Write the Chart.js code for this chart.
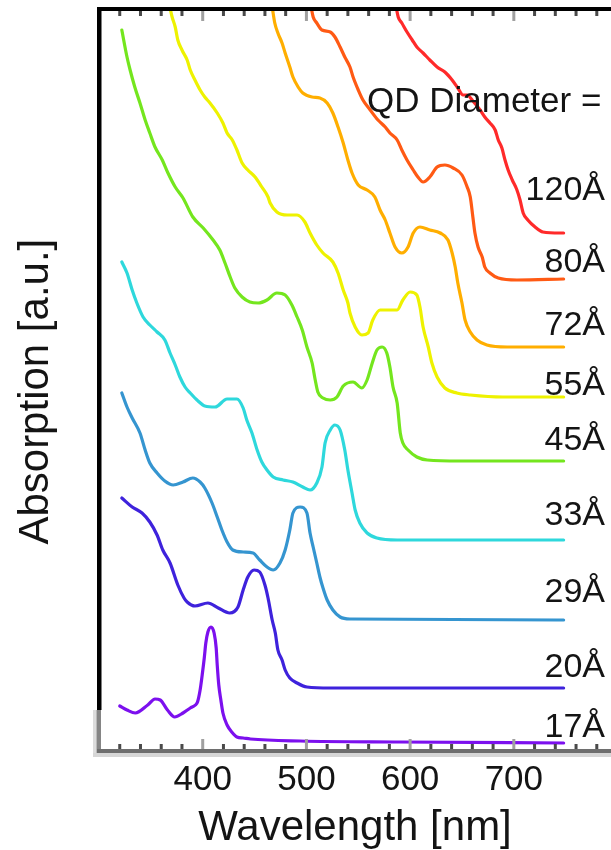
<!DOCTYPE html>
<html>
<head>
<meta charset="utf-8">
<script src="https://cdn.jsdelivr.net/npm/chart.js@4/dist/chart.umd.min.js"></script>
<style>
  html, body { margin: 0; padding: 0; background: #fff; }
  #wrap { width: 611px; height: 850px; }
</style>
</head>
<body>
<div id="wrap"><canvas id="spectra" width="611" height="850" style="width:611px;height:850px"></canvas></div>
<script>
// Absorption spectra of CdSe quantum dots, stacked by diameter (arbitrary units).
const diameters = ['17Å', '20Å', '29Å', '33Å', '45Å', '55Å', '72Å', '80Å', '120Å'];
const tickLabels = [400, 500, 600, 700];

const wl17 = [320, 327, 335, 347, 354, 359, 366, 373, 381, 388, 393, 395, 397.5, 399.5, 401.5, 403, 405, 408, 411, 413, 414, 415.5, 417.5, 419.5, 423.5, 428, 433, 439, 446, 494, 590, 748];
const abs17 = [45, 41, 38, 46, 52, 51, 41, 34, 38, 43, 46, 49, 61, 76, 93, 108, 119, 124, 118, 103, 86, 66, 51, 38, 26, 19, 14, 13, 12, 10, 9, 8];

const wl20 = [322, 332, 341.5, 349, 356, 361.5, 368.5, 376, 382, 385, 392.5, 405, 415, 426, 434, 439, 443.5, 449.5, 455, 460, 463, 467, 470, 472.5, 476.5, 479.5, 484, 491, 500.5, 523, 748];
const abs20 = [253, 244, 238, 229, 216, 201, 188, 166, 153, 149, 145, 148, 143, 138, 144, 161, 174, 181, 179, 166, 153, 131, 118, 101, 91, 81, 73, 68, 64, 63, 63];

const wl29 = [322, 327, 332, 339.5, 344.5, 349, 356, 363.5, 371.5, 381, 390.5, 397.5, 402, 409, 414, 418.5, 423.5, 429, 439, 448.5, 455, 462, 468, 474.5, 479.5, 484, 487, 494, 500.5, 503.5, 506.5, 510, 513, 516, 520, 525.5, 532.5, 542, 748];
const abs29 = [358, 344, 333, 318, 301, 288, 278, 270, 266, 269, 273, 269, 263, 248, 234, 221, 209, 201, 199, 198, 191, 184, 181, 188, 201, 221, 238, 244, 238, 218, 204, 188, 174, 163, 151, 141, 134, 132, 131];

const wl33 = [322, 327, 332, 336.5, 342.5, 349, 356, 363.5, 368.5, 373.5, 378, 383, 388, 394.5, 402, 412, 423.5, 433, 439, 442.5, 447.5, 452.5, 457, 462, 468, 477.5, 487, 496.5, 503.5, 510, 515, 518, 523, 527.5, 532.5, 537, 540, 544, 547, 551.5, 558.5, 568, 587.5, 748];
const abs33 = [489, 478, 461, 448, 434, 426, 419, 411, 398, 386, 374, 364, 358, 351, 345, 344, 352, 352, 343, 331, 318, 301, 289, 281, 274, 271, 269, 264, 261, 268, 284, 308, 321, 326, 321, 301, 281, 258, 241, 228, 218, 213, 211, 211];

const wl45 = [322, 327, 330, 334.5, 339.5, 344.5, 349, 354, 361, 366.5, 373.5, 381, 390.5, 400.5, 410, 416.5, 421.5, 426.5, 431, 438, 445.5, 453.5, 462, 471.5, 479.5, 486, 491, 496, 500.5, 505.5, 508.5, 511, 516, 523, 529.5, 535.5, 545, 553.5, 558.5, 563.5, 568, 573, 577.5, 580.5, 583.5, 587.5, 590.5, 593, 598, 606.5, 616.5, 648, 748];
const abs45 = [721, 694, 681, 664, 648, 631, 618, 604, 591, 578, 564, 553, 534, 523, 511, 501, 488, 474, 463, 454, 449, 448, 451, 458, 456, 446, 434, 421, 404, 388, 371, 359, 353, 351, 354, 365, 369, 363, 371, 388, 401, 404, 398, 384, 364, 348, 318, 308, 301, 294, 291, 290, 290];

const wl55 = [368.5, 370.5, 373.5, 376, 380, 385, 388, 392.5, 397.5, 402, 407, 414, 419.5, 423.5, 428.5, 433, 438, 443.5, 450.5, 457, 463, 465, 471.5, 481.5, 491, 498.5, 503.5, 510, 516, 525.5, 530.5, 535.5, 540, 542, 547, 553.5, 559.5, 564, 571, 580.5, 587.5, 593, 600, 606.5, 609.5, 612.5, 617.5, 621, 626, 633.5, 645, 658, 689.5, 748];
const abs55 = [743, 734, 724, 711, 701, 691, 681, 671, 661, 654, 648, 638, 628, 618, 611, 601, 588, 581, 574, 564, 554, 548, 539, 536, 536, 529, 518, 506, 498, 489, 478, 461, 448, 438, 424, 416, 418, 431, 441, 441, 441, 451, 459, 456, 444, 424, 404, 388, 374, 363, 358, 356, 354, 354];

const wl72 = [467, 469.5, 472.5, 476.5, 479.5, 484, 487, 492, 496.5, 505.5, 513, 520, 525.5, 530.5, 535.5, 540, 544, 550, 558.5, 566, 571, 576, 580.5, 585.5, 592, 598, 603, 609.5, 619, 629, 636.5, 640.5, 643.5, 646, 650, 653, 658, 664.5, 674, 693.5, 748];
const abs72 = [744, 728, 718, 708, 698, 684, 674, 664, 658, 654, 653, 648, 638, 624, 608, 591, 578, 566, 561, 554, 541, 531, 518, 504, 498, 504, 518, 524, 521, 518, 511, 498, 484, 468, 448, 431, 419, 411, 406, 404, 404];

const wl80 = [504.5, 506.5, 510, 515, 523, 527.5, 532.5, 537, 542, 545, 550, 554.5, 561.5, 569, 576, 580.5, 587.5, 592, 597, 603, 607.5, 612.5, 619, 626, 633.5, 641.5, 650, 655, 658, 660.5, 662.5, 665.5, 669.5, 672, 677, 685, 703, 748];
const abs80 = [744, 734, 728, 721, 719, 714, 704, 694, 684, 674, 661, 651, 641, 631, 624, 618, 611, 601, 591, 581, 574, 569, 574, 584, 586, 583, 576, 564, 554, 534, 518, 504, 494, 484, 478, 473, 471, 472];

const wl120 = [586.5, 588.5, 592, 597, 602, 606.5, 612.5, 619, 626, 633.5, 640.5, 646, 651, 655, 660.5, 667.5, 672, 677, 682, 685, 688.5, 691.5, 694.5, 698.5, 703, 706, 709, 713.5, 720.5, 728, 744.5, 748];
const abs120 = [744, 734, 728, 719, 711, 704, 698, 691, 684, 679, 671, 663, 656, 656, 650, 641, 634, 628, 621, 611, 603, 591, 581, 571, 561, 551, 538, 531, 524, 519, 518, 518];

const series = [
  [wl17, abs17, '#7c10ee'],
  [wl20, abs20, '#3e22dc'],
  [wl29, abs29, '#3595d0'],
  [wl33, abs33, '#2ed8dc'],
  [wl45, abs45, '#74e61e'],
  [wl55, abs55, '#eef200'],
  [wl72, abs72, '#ffae00'],
  [wl80, abs80, '#ff5a14'],
  [wl120, abs120, '#ff2a2a']
];

const FONT = 'Liberation Sans, Arial, sans-serif';
const TEXT = '#141414';

const datasets = series.map(([wl, ab, color], i) => ({
  label: diameters[i],
  data: wl.map((x, k) => ({ x, y: ab[k] })),
  borderColor: color,
  backgroundColor: color,
  borderWidth: 3.2,
  pointRadius: 0,
  cubicInterpolationMode: 'monotone',
  borderCapStyle: 'round',
  borderJoinStyle: 'round',
  fill: false
}));

// Mathematica-style frame with inward tick marks on top and bottom edges
const framePlugin = {
  id: 'frame',
  afterDatasetsDraw(chart) {
    const { ctx, chartArea: a, scales: { x } } = chart;
    ctx.save();
    x.ticks.forEach(t => {
      const px = x.getPixelForValue(t.value);
      const major = tickLabels.includes(t.value);
      const len = major ? 10 : 5;
      ctx.fillStyle = major ? '#a0a0a0' : '#4a4a4a';
      ctx.fillRect(px - 1.5, a.bottom - 2 - len, 3, len);
      ctx.fillRect(px - 1.5, a.top + 2, 3, len);
    });
    const w = a.right - a.left;
    ctx.fillStyle = '#000';
    ctx.fillRect(a.left - 2, a.top - 2, w + 2, 4);
    ctx.fillRect(a.left - 2, a.top - 2, 4.5, (a.bottom - 41) - (a.top - 2));
    ctx.fillStyle = '#dcdcdc';
    ctx.fillRect(a.left - 6, a.bottom - 41, 3.5, 47);
    ctx.fillStyle = '#858585';
    ctx.fillRect(a.left - 2.5, a.bottom - 41, 4.5, 43);
    ctx.fillStyle = '#6e6e6e';
    ctx.fillRect(a.left - 2, a.bottom - 2, w + 2, 4);
    ctx.fillStyle = '#d6d6d6';
    ctx.fillRect(a.left - 6, a.bottom + 2, w + 6, 4);
    ctx.restore();
  }
};

// Diameter labels at the right end of each trace
const labelBaselines = [737, 677, 602, 525, 450, 395, 335, 272, 200];
const labelPlugin = {
  id: 'diameterLabels',
  afterDraw(chart) {
    const { ctx } = chart;
    ctx.save();
    ctx.fillStyle = TEXT;
    ctx.textBaseline = 'alphabetic';
    ctx.font = '35px ' + FONT;
    ctx.textAlign = 'left';
    ctx.fillText('QD Diameter =', 367, 112);
    ctx.font = '34px ' + FONT;
    ctx.textAlign = 'right';
    diameters.forEach((d, i) => ctx.fillText(d, 605, labelBaselines[i]));
    ctx.restore();
  }
};

new Chart(document.getElementById('spectra'), {
  type: 'line',
  data: { datasets },
  plugins: [framePlugin, labelPlugin],
  options: {
    responsive: false,
    devicePixelRatio: 1,
    animation: false,
    layout: { padding: { top: 9, left: 0, right: 0, bottom: 0 } },
    plugins: { legend: { display: false }, tooltip: { enabled: false } },
    scales: {
      x: {
        type: 'linear',
        position: 'bottom',
        min: 300,
        max: 793.7,
        grid: { display: false, drawTicks: false },
        border: { display: false },
        afterBuildTicks(scale) {
          const t = [];
          for (let v = 320; v <= 780; v += 20) t.push({ value: v });
          scale.ticks = t;
        },
        afterFit(scale) { scale.height = 99; },
        ticks: {
          autoSkip: false,
          maxRotation: 0,
          minRotation: 0,
          padding: 8,
          color: TEXT,
          font: { family: FONT, size: 35 },
          callback: v => tickLabels.includes(v) ? String(v) : ''
        },
        title: {
          display: true,
          text: 'Wavelength [nm]',
          color: TEXT,
          font: { family: FONT, size: 42, lineHeight: 1 },
          padding: { top: 0, bottom: 1 }
        }
      },
      y: {
        type: 'linear',
        min: 0,
        max: 742,
        grid: { display: false, drawTicks: false },
        border: { display: false },
        ticks: { display: false },
        afterFit(scale) { scale.width = 99; },
        title: {
          display: true,
          text: 'Absorption [a.u.]  ',
          color: TEXT,
          font: { family: FONT, size: 42, lineHeight: 1 },
          padding: { top: 15, bottom: 0 }
        }
      }
    }
  }
});
</script>
</body>
</html>
